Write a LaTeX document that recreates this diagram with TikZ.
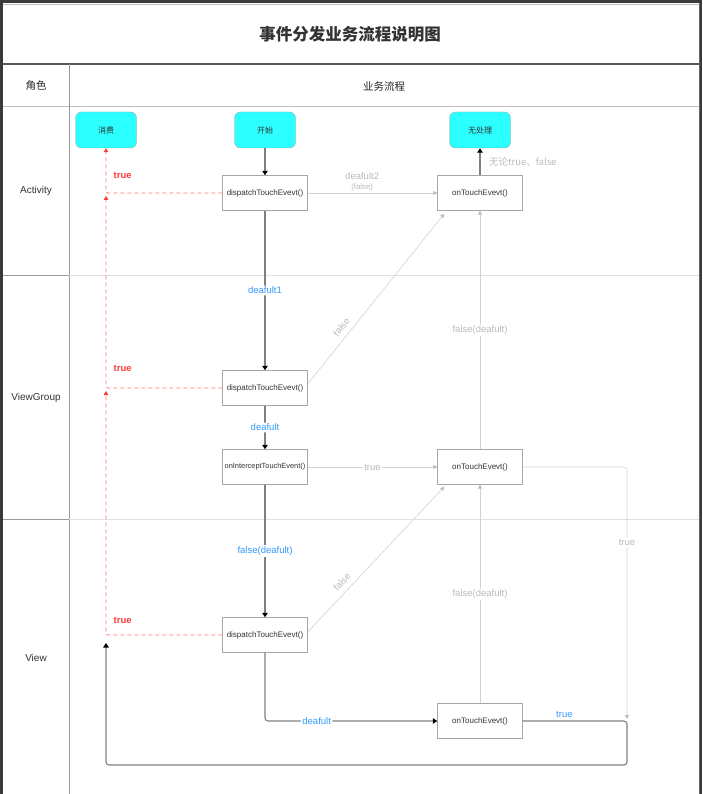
\documentclass[tikz,border=0pt]{standalone}
\usepackage{fontspec}
\setmainfont{Liberation Sans}
\newfontfamily\cjk{Noto Sans CJK SC}
\usetikzlibrary{arrows.meta}

\definecolor{frameDark}{HTML}{3A3A3A}
\definecolor{lineGray}{HTML}{808080}
\definecolor{softGray}{HTML}{D2D2D2}
\definecolor{labelGray}{HTML}{BBBBBB}
\definecolor{flowBlue}{HTML}{3399FF}
\definecolor{flowRed}{HTML}{FF3B3B}
\definecolor{startCyan}{HTML}{2BFFFF}

\begin{document}
\begin{tikzpicture}[
    x=1pt, y=-1pt,
    func/.style={draw=black!35, fill=white, minimum width=85pt, minimum height=35pt, inner sep=1pt, font=\fontsize{8}{9}\selectfont, text=black!80},
    term/.style={draw=black!35, fill=startCyan, rounded corners=6pt, minimum width=61pt, minimum height=36pt, font=\cjk\fontsize{8}{9}\selectfont, text=black!80},
    lane/.style={font=\fontsize{10}{12}\selectfont, text=black!80},
    main/.style={draw=lineGray, line width=1.1pt, rounded corners=3pt, -{Triangle[length=4.5pt,width=5.5pt,color=black]}},
    soft/.style={draw=softGray, line width=0.6pt, rounded corners=3pt, -{Triangle[length=4pt,width=4pt,color=labelGray]}},
    back/.style={draw=flowRed!70, line width=0.8pt, dash pattern=on 4pt off 3pt, rounded corners=2pt, -{Triangle[length=4pt,width=4.5pt,color=flowRed]}},
    blue label/.style={font=\fontsize{9.5}{11}\selectfont, text=flowBlue, fill=white, inner sep=1.5pt},
    gray label/.style={font=\fontsize{9.5}{11}\selectfont, text=labelGray, fill=white, inner sep=1.5pt},
    red label/.style={font=\bfseries\fontsize{9.5}{11}\selectfont, text=flowRed}
]
    \useasboundingbox (0,0) rectangle (702,794);
    % frame and table
    \fill[frameDark] (0,0) rectangle (702,794);
    \fill[white] (3,3) rectangle (699,794);
    \draw[black!25] (3,4) -- (699,4);
    \draw[black!60] (699,3) -- (699,794);
    \draw[black!65, line width=1.2pt] (3,64) -- (699,64);
    \draw[black!25] (3,106) -- (699,106);
    \draw[black!40, line width=1pt] (69,64) -- (69,794);
    \draw[black!40, line width=1pt] (3,275) -- (69,275);
    \draw[black!12] (69,275) -- (699,275);
    \draw[black!40, line width=1pt] (3,519) -- (69,519);
    \draw[black!12] (69,519) -- (699,519);

    \node[font=\cjk\bfseries\fontsize{16.5}{18}\selectfont, text=black!80] (title) at (350,34) {事件分发业务流程说明图};
    \node[font=\cjk\fontsize{10.5}{12}\selectfont, text=black!85] (role) at (36,86) {角色};
    \node[font=\cjk\fontsize{10.5}{12}\selectfont, text=black!85] (flow) at (384,86) {业务流程};

    \node[lane] (laneA) at (36,191) {Activity};
    \node[lane] (laneVG) at (36,398) {ViewGroup};
    \node[lane] (laneV) at (36,658) {View};

    % nodes
    \node[term] (eat) at (106,130) {消费};
    \node[term] (start) at (265,130) {开始};
    \node[term] (none) at (480,130) {无处理};

    \node[func] (dA) at (265,193) {dispatchTouchEvevt()};
    \node[func] (oA) at (480,193) {onTouchEvevt()};
    \node[func] (dVG) at (265,388) {dispatchTouchEvevt()};
    \node[func, font=\fontsize{7.4}{9}\selectfont] (oI) at (265,467) {onInterceptTouchEvent()};
    \node[func] (oVG) at (480,467) {onTouchEvevt()};
    \node[func] (dV) at (265,635) {dispatchTouchEvevt()};
    \node[func] (oV) at (480,721) {onTouchEvevt()};

    \coordinate (hitA) at (106,196);
    \coordinate (hitVG) at (106,391);
    \coordinate (hitV) at (106,643);
    \coordinate (trueEnd) at (627,719);
    \coordinate (loopR) at (627,765);
    \coordinate (loopL) at (106,765);

    % Activity
    \draw[main] (start) -- (dA);
    \draw[soft] (dA) -- node[gray label, above, pos=0.42, fill=none, align=center] {deafult2\\[-1pt]{\fontsize{7.8}{9}\selectfont (false)}} (oA);
    \draw[main] (oA) -- node[gray label, right=7pt, fill=none, font=\cjk\fontsize{9.5}{11}\selectfont] {无论true、false} (none);
    \draw[back] (dA) -| node[red label, pos=0.7, right=4pt] {true} (eat);
    \draw[main] (dA) -- node[blue label] {deafult1} (dVG);

    % ViewGroup
    \draw[soft] ([yshift=4pt]dVG.east) -- node[gray label, sloped, above=4pt, pos=0.3, fill=none] {false} ([xshift=7pt,yshift=-3pt]oA.south west);
    \draw[back] (dVG) -| node[red label, pos=0.55, right=4pt] {true} (hitA);
    \draw[main] (dVG) -- node[blue label] {deafult} (oI);
    \draw[soft] (oI) -- node[gray label] {true} (oVG);
    \draw[soft] (oVG) -- node[gray label] {false(deafult)} (oA);
    \draw[soft] (oVG) -| node[gray label, pos=0.65] {true} (trueEnd);
    \draw[main] (oI) -- node[blue label] {false(deafult)} (dV);

    % View
    \draw[soft] ([yshift=3pt]dV.east) -- node[gray label, sloped, above=4pt, pos=0.3, fill=none] {false} ([xshift=7pt,yshift=-2pt]oVG.south west);
    \draw[back] (dV) -| node[red label, pos=0.53, right=4pt] {true} (hitVG);
    \draw[soft] (oV) -- node[gray label] {false(deafult)} (oVG);
    \draw[main] (dV) |- node[blue label, pos=0.65] {deafult} (oV);
    \draw[main] (oV) -| node[blue label, pos=0.2, above=1pt, fill=none] {true} (loopR) -- (loopL) -- (hitV);
\end{tikzpicture}
\end{document}
